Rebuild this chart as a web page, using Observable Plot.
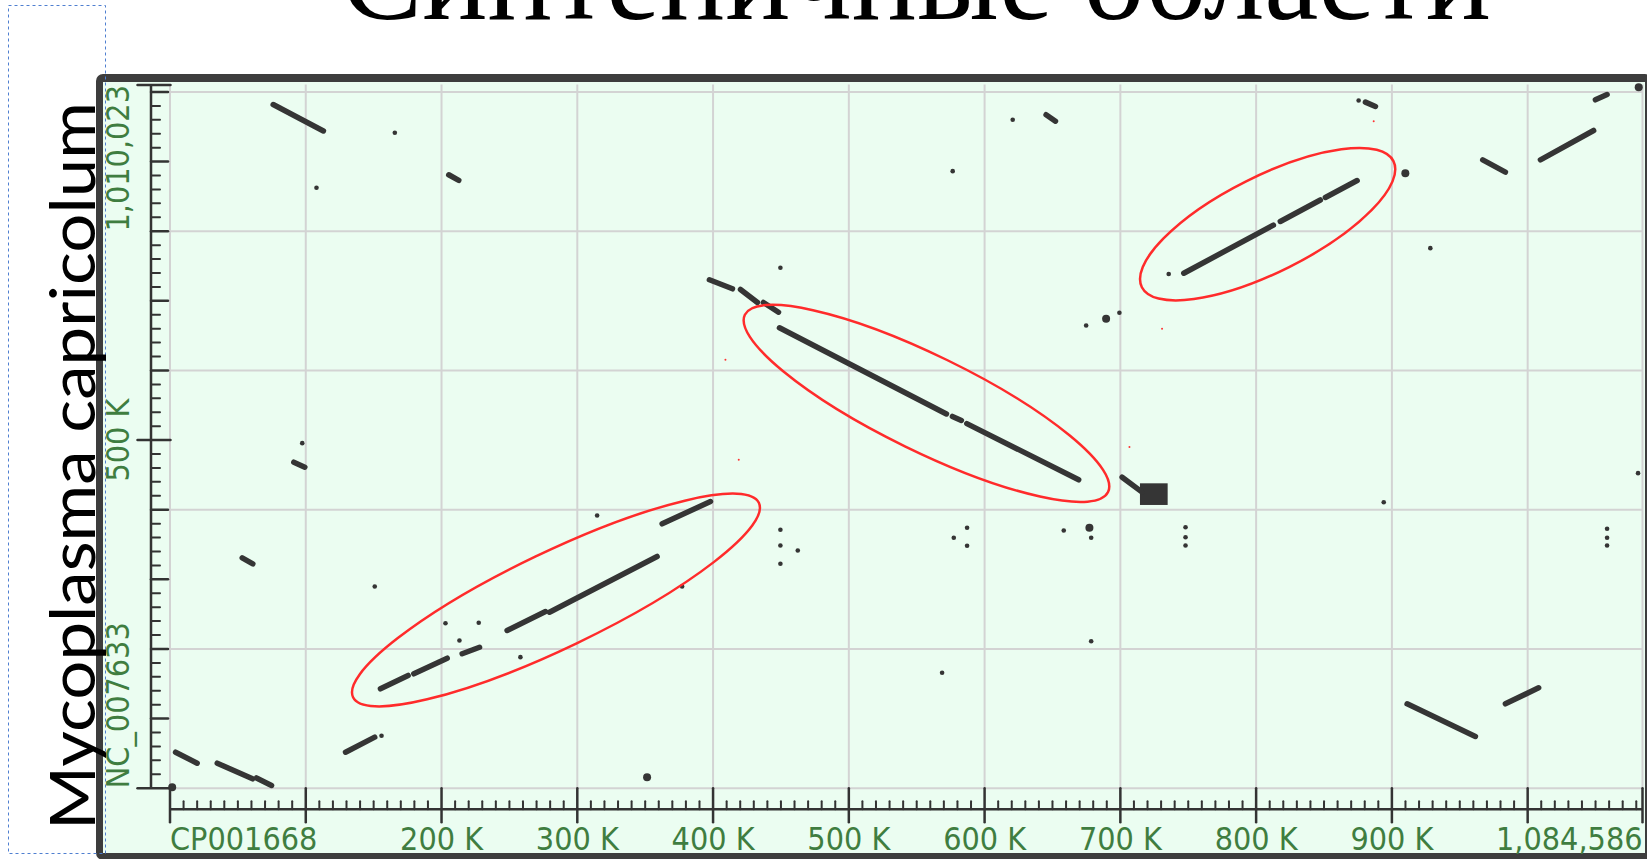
<!DOCTYPE html>
<html>
<head>
<meta charset="utf-8">
<script src="https://cdn.jsdelivr.net/npm/d3@7"></script>
<script src="https://cdn.jsdelivr.net/npm/@observablehq/plot@0.6"></script>
<style>
html, body { margin: 0; padding: 0; width: 1647px; height: 859px; overflow: hidden; background: #ffffff; }
#frame { position: absolute; left: 96px; top: 74px; width: 1556px; height: 786px; box-sizing: border-box;
  border: 7px solid #3d3d3d; border-top-width: 8px; border-radius: 7px; background: #ebfdf1; }
#chart { position: absolute; left: 0; top: 0; }
</style>
</head>
<body>
<div id="frame"></div>
<div id="chart"></div>
<script>
// ---- Texts ----
const titleText = "Синтеничные области";
const yTitleText = "Mycoplasma capricolum";

// ---- Genome lengths (axis extents) ----
const xGenomeLength = 1084586; // CP001668
const yGenomeLength = 1010023; // NC_007633

// ---- Axis tick labels ----
const xLabelValues = [0, 200000, 300000, 400000, 500000, 600000, 700000, 800000, 900000, 1084586];
const xLabelTexts = ["CP001668", "200 K", "300 K", "400 K", "500 K", "600 K", "700 K", "800 K", "900 K", "1,084,586"];
const yLabelValues = [0, 500000, 1010023];
const yLabelTexts = ["NC_007633", "500 K", "1,010,023"];

// ---- Grid / tick positions ----
const xGridValues = [0, 100000, 200000, 300000, 400000, 500000, 600000, 700000, 800000, 900000, 1000000, 1084586];
const yGridValues = [0, 200000, 400000, 600000, 800000, 1000000];
const xMajorTicks = [0, 100000, 200000, 300000, 400000, 500000, 600000, 700000, 800000, 900000, 1000000, 1084586];
const xMinorTicks = d3.range(10000, 1084586, 10000).filter(v => v % 100000 !== 0);
const yMajorTicks = [100000, 200000, 300000, 400000, 600000, 700000, 800000, 900000, 1000000];
const yMinorTicks = d3.range(20000, 1000001, 20000).filter(v => v % 100000 !== 0);
const yLabelTicks = [0, 500000, 1010023];

// ---- Alignment segments [x1, y1, x2, y2] (bp) ----
const lowerRegionSegments = [
  [155000, 142800, 175400, 161900],
  [179600, 164300, 204200, 186700],
  [215200, 193100, 228000, 202500],
  [248300, 226500, 276600, 253800],
  [279500, 252800, 358800, 332800],
  [362500, 379800, 398100, 411800]
];
const middleRegionSegments = [
  [448900, 661300, 571900, 537500],
  [576300, 534000, 582900, 528200],
  [586900, 523700, 669300, 443000]
];
const upperRegionSegments = [
  [746700, 739700, 812700, 808700],
  [817800, 814000, 847300, 844900],
  [851000, 848500, 874400, 872800]
];
const otherSegments = [
  [76000, 982000, 113000, 944000],
  [205300, 881100, 212700, 872900],
  [645300, 967300, 652200, 958100],
  [397300, 730300, 414300, 717300],
  [420200, 716300, 432700, 697700],
  [437100, 697700, 448200, 683700],
  [880500, 985400, 887900, 979200],
  [966900, 902600, 983600, 884800],
  [1009400, 902600, 1048600, 944700],
  [1049900, 988800, 1058500, 996400],
  [701300, 446700, 716000, 425200],
  [91200, 468300, 99300, 461100],
  [53200, 330900, 61000, 322300],
  [129300, 51700, 150800, 73300],
  [4100, 51700, 20000, 35900],
  [34800, 35900, 60800, 13500],
  [63700, 14700, 74800, 3900],
  [911200, 121200, 961500, 74300],
  [983600, 121200, 1008100, 144200]
];

// ---- Point hits [x, y] ----
const blobHits = [
  [689500, 674200], [909900, 883400], [351400, 15800], [677200, 374000], [1081800, 1006900], [1600, 1400]
];
const dotHits = [
  [165600, 941400], [107900, 862400], [620700, 960100], [576500, 886300], [449600, 747500],
  [674800, 664600], [699300, 682800], [875500, 987800], [735600, 738600], [928300, 775700],
  [97400, 495600], [150800, 289700], [202900, 237000], [227400, 237600], [213200, 212200],
  [258100, 188200], [314600, 391700], [377200, 289700], [155800, 75300],
  [449600, 371200], [449600, 348600], [462400, 341400], [449600, 322300],
  [587100, 374000], [577300, 359700], [587100, 348200],
  [658300, 370200], [678500, 359700], [678500, 211100], [568700, 165800],
  [748000, 374900], [748000, 360500], [748000, 348600],
  [894000, 410800], [1081300, 452500],
  [1058500, 372600], [1058500, 359700], [1058500, 348600]
];
const denseBlock = [[714800, 406100, 735200, 437200]];
const reverseHits = [
  [409100, 615400], [886600, 958100], [730700, 659900], [418900, 471700], [706700, 490200]
];

// ---- Highlighted syntenic regions: major-axis ends [x1, y1, x2, y2] (bp) ----
const highlightRegions = [
  [135200, 130000, 434100, 409200],
  [423800, 679300, 691300, 424700],
  [716200, 718900, 901500, 899900]
];

// ---------------------------------------------------------------
const W = 1647, H = 859;
const ink = "#353535";
const axisInk = "#333333";
const labelGreen = "#3f7d40";
const gridGray = "#d3d3d3";
const labelFont = "'Liberation Sans Narrow', 'DejaVu Sans Condensed', 'Arial Narrow', sans-serif";
const ellipseHalfWidth = 48;

const toSeg = a => ({x1: a[0], y1: a[1], x2: a[2], y2: a[3]});
const segments = [...lowerRegionSegments, ...middleRegionSegments, ...upperRegionSegments, ...otherSegments].map(toSeg);
const toPt = a => ({x: a[0], y: a[1]});
const xLabels = xLabelValues.map((v, i) => ({v, t: xLabelTexts[i]}));
const yLabels = yLabelValues.map((v, i) => ({v, t: yLabelTexts[i]}));

const tickShape = {draw(ctx, l) { ctx.moveTo(0, 0); ctx.lineTo(0, -l); }};

function ellipses(index, scales) {
  const ns = "http://www.w3.org/2000/svg";
  const g = document.createElementNS(ns, "g");
  for (const r of highlightRegions) {
    const px1 = scales.x(r[0]), py1 = scales.y(r[1]);
    const px2 = scales.x(r[2]), py2 = scales.y(r[3]);
    const cx = (px1 + px2) / 2, cy = (py1 + py2) / 2;
    const a = Math.hypot(px2 - px1, py2 - py1) / 2;
    const ang = Math.atan2(py2 - py1, px2 - px1) * 180 / Math.PI;
    const e = document.createElementNS(ns, "ellipse");
    e.setAttribute("cx", 0); e.setAttribute("cy", 0);
    e.setAttribute("rx", a); e.setAttribute("ry", ellipseHalfWidth);
    e.setAttribute("transform", `translate(${cx},${cy}) rotate(${ang})`);
    e.setAttribute("fill", "none");
    e.setAttribute("stroke", "#ff2b2b");
    e.setAttribute("stroke-width", 2.5);
    g.appendChild(e);
  }
  return g;
}

const labelCommon = {fill: labelGreen, fontSize: 32, fontFamily: labelFont, lineAnchor: "middle"};

const chart = Plot.plot({
  width: W, height: H,
  marginLeft: 169.5, marginRight: 5, marginTop: 84.5, marginBottom: 71.3,
  x: {domain: [0, xGenomeLength], axis: null},
  y: {domain: [0, yGenomeLength], axis: null},
  style: {background: "transparent"},
  marks: [
    Plot.ruleX(xGridValues, {stroke: gridGray, strokeWidth: 2}),
    Plot.ruleY(yGridValues, {stroke: gridGray, strokeWidth: 2}),
    // x axis
    Plot.ruleY([0], {dy: 21, stroke: axisInk, strokeWidth: 2.5}),
    Plot.vectorX(xMinorTicks, {x: d => d, frameAnchor: "bottom", dy: 21, length: 8, anchor: "start", shape: tickShape, stroke: axisInk, strokeWidth: 2}),
    Plot.vectorX(xMajorTicks, {x: d => d, frameAnchor: "bottom", dy: 34, length: 34, anchor: "start", shape: tickShape, stroke: axisInk, strokeWidth: 2.5}),
    Plot.text(xLabels.slice(0, 1), {x: "v", text: "t", frameAnchor: "bottom", dy: 52, textAnchor: "start", ...labelCommon}),
    Plot.text(xLabels.slice(1, -1), {x: "v", text: "t", frameAnchor: "bottom", dy: 52, textAnchor: "middle", ...labelCommon}),
    Plot.text(xLabels.slice(-1), {x: "v", text: "t", frameAnchor: "bottom", dy: 52, textAnchor: "end", ...labelCommon}),
    // y axis
    Plot.ruleX([0], {dx: -19, stroke: axisInk, strokeWidth: 2.5}),
    Plot.vectorY(yMinorTicks, {y: d => d, frameAnchor: "left", dx: -19, rotate: 90, length: 9, anchor: "start", shape: tickShape, stroke: axisInk, strokeWidth: 2}),
    Plot.vectorY(yMajorTicks, {y: d => d, frameAnchor: "left", dx: -19, rotate: 90, length: 17, anchor: "start", shape: tickShape, stroke: axisInk, strokeWidth: 2.5}),
    Plot.vectorY(yLabelTicks, {y: d => d, frameAnchor: "left", dx: -32.5, rotate: 90, length: 33, anchor: "start", shape: tickShape, stroke: axisInk, strokeWidth: 2.5}),
    Plot.text(yLabels.slice(0, 1), {y: "v", text: "t", frameAnchor: "left", dx: -51.5, rotate: -90, textAnchor: "start", ...labelCommon}),
    Plot.text(yLabels.slice(1, -1), {y: "v", text: "t", frameAnchor: "left", dx: -51.5, rotate: -90, textAnchor: "middle", ...labelCommon}),
    Plot.text(yLabels.slice(-1), {y: "v", text: "t", frameAnchor: "left", dx: -51.5, rotate: -90, textAnchor: "end", ...labelCommon}),
    // hits
    Plot.rect(denseBlock.map(a => ({x1: a[0], y1: a[1], x2: a[2], y2: a[3]})), {x1: "x1", x2: "x2", y1: "y1", y2: "y2", fill: ink}),
    Plot.link(segments, {x1: "x1", y1: "y1", x2: "x2", y2: "y2", stroke: ink, strokeWidth: 5.5, strokeLinecap: "round"}),
    Plot.dot(dotHits.map(toPt), {x: "x", y: "y", r: 2.3, fill: ink, stroke: "none"}),
    Plot.dot(blobHits.map(toPt), {x: "x", y: "y", r: 4, fill: ink, stroke: "none"}),
    Plot.dot(reverseHits.map(toPt), {x: "x", y: "y", r: 1, fill: "#ff3333", stroke: "none"}),
    ellipses
  ]
});
document.getElementById("chart").appendChild(chart);

// ---- slide decorations: placeholder box, rotated label, title ----
const svg = d3.select(chart);
svg.append("rect")
  .attr("x", 8.5).attr("y", 5.5).attr("width", 97).attr("height", 848)
  .attr("fill", "none").attr("stroke", "#4f7fd0").attr("stroke-width", 1)
  .attr("stroke-dasharray", "3 3");

svg.append("text")
  .attr("transform", "translate(94.5,830) rotate(-90)")
  .attr("text-anchor", "start")
  .attr("font-family", "Lato, 'Open Sans', sans-serif")
  .attr("font-size", 62)
  .attr("fill", "#000")
  .attr("textLength", 728)
  .attr("lengthAdjust", "spacingAndGlyphs")
  .text(yTitleText);

const title = svg.append("text")
  .attr("x", 341).attr("y", 18.5)
  .attr("text-anchor", "start")
  .attr("font-family", "'Liberation Serif', 'DejaVu Serif', serif")
  .attr("font-size", 100)
  .attr("fill", "#000")
  .text(titleText);
const natural = title.node().getComputedTextLength();
title.attr("font-size", 100 * 1150 / natural);
</script>
</body>
</html>
